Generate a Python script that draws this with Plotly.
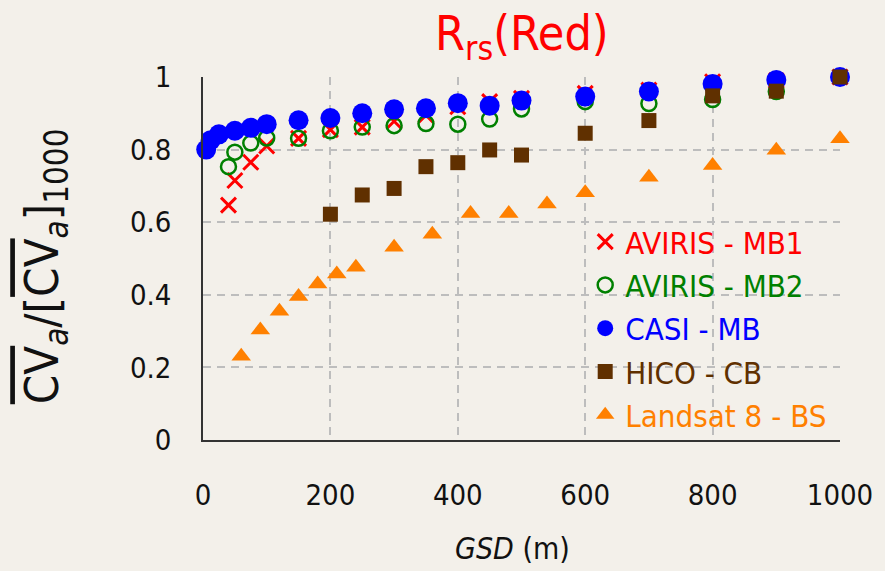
import plotly.graph_objects as go

# ---- data ----
aviris_gsd = [40, 50, 75, 100, 150, 200, 250, 300, 350, 400, 450, 500, 600, 700, 800, 900, 1000]
aviris_mb1 = [0.647, 0.715, 0.765, 0.81, 0.831, 0.855, 0.862, 0.878, 0.895, 0.918, 0.932, 0.941, 0.955, 0.964, 0.987, 0.99, 1.0]
aviris_mb2 = [0.753, 0.793, 0.818, 0.832, 0.831, 0.852, 0.862, 0.866, 0.872, 0.870, 0.884, 0.912, 0.932, 0.927, 0.938, 0.96, 1.0]

casi_gsd = [5, 12, 25, 50, 75, 100, 150, 200, 250, 300, 350, 400, 450, 500, 600, 700, 800, 900, 1000]
casi_mb = [0.80, 0.826, 0.842, 0.852, 0.86, 0.87, 0.881, 0.887, 0.90, 0.911, 0.914, 0.928, 0.921, 0.935, 0.946, 0.96, 0.981, 0.992, 1.0]

hico_gsd = [200, 250, 300, 350, 400, 450, 500, 600, 700, 800, 900, 1000]
hico_cb = [0.622, 0.675, 0.693, 0.753, 0.764, 0.799, 0.785, 0.845, 0.88, 0.948, 0.961, 1.0]

landsat_gsd = [60, 90, 120, 150, 180, 210, 240, 300, 360, 420, 480, 540, 600, 700, 800, 900, 1000]
landsat_bs = [0.231, 0.303, 0.355, 0.395, 0.43, 0.457, 0.476, 0.531, 0.567, 0.624, 0.624, 0.65, 0.681, 0.724, 0.756, 0.798, 0.830]

x_ticks = [0, 200, 400, 600, 800, 1000]
y_ticks = [0, 0.2, 0.4, 0.6, 0.8, 1]
y_tick_text = ["0", "0.2", "0.4", "0.6", "0.8", "1"]

FONT = "Liberation Sans Narrow, Arial Narrow, DejaVu Sans Condensed, Lato, sans-serif"
BG = "#f3f0ea"
RED, GREEN, BLUE, BROWN, ORANGE = "#ff0000", "#008000", "#0000ff", "#603000", "#ff8000"

fig = go.Figure()
fig.add_trace(go.Scatter(x=aviris_gsd, y=aviris_mb1, mode="markers",
                         name=f'<span style="color:{RED}">AVIRIS - MB1</span>',
                         marker=dict(symbol="x-thin", size=15, line=dict(color=RED, width=3)),
                         cliponaxis=False))
fig.add_trace(go.Scatter(x=aviris_gsd, y=aviris_mb2, mode="markers",
                         name=f'<span style="color:{GREEN}">AVIRIS - MB2</span>',
                         marker=dict(symbol="circle-open", size=15, color=GREEN, line=dict(color=GREEN, width=2.5)),
                         cliponaxis=False))
fig.add_trace(go.Scatter(x=casi_gsd, y=casi_mb, mode="markers",
                         name=f'<span style="color:{BLUE}">CASI - MB</span>',
                         marker=dict(symbol="circle", size=20, color=BLUE),
                         cliponaxis=False))
fig.add_trace(go.Scatter(x=hico_gsd, y=hico_cb, mode="markers",
                         name=f'<span style="color:{BROWN}">HICO - CB</span>',
                         marker=dict(symbol="square", size=15, color=BROWN),
                         cliponaxis=False))
fig.add_trace(go.Scatter(x=landsat_gsd, y=landsat_bs, mode="markers",
                         name=f'<span style="color:{ORANGE}">Landsat 8 - BS</span>',
                         marker=dict(symbol="triangle-up", size=17, color=ORANGE),
                         cliponaxis=False))

grid = dict(showgrid=True, gridcolor="#bdbdbd", gridwidth=2.2, griddash="8px,6px")

fig.update_layout(
    width=885, height=571,
    margin=dict(l=203, r=40, t=77, b=131),
    paper_bgcolor=BG, plot_bgcolor=BG,
    font=dict(family=FONT, size=29, color="#111111"),
    showlegend=True,
    legend=dict(x=0.60, y=0.62, xanchor="left", yanchor="top",
                bgcolor="rgba(0,0,0,0)", font=dict(size=31),
                itemsizing="trace", tracegroupgap=0),
    xaxis=dict(range=[0, 1000], tickvals=x_ticks, ticks="", ticklabelstandoff=28,
               showline=True, linecolor="#333333", linewidth=1.5, zeroline=False, **grid),
    yaxis=dict(range=[0, 1], tickvals=y_ticks, ticktext=y_tick_text, ticks="", ticklabelstandoff=24,
               showline=True, linecolor="#333333", linewidth=1.5, zeroline=False, **grid),
)

fig.add_annotation(xref="paper", yref="paper", x=0.5, y=(440 - 36) / 363,
                   text="R<sub>rs</sub>(Red)", showarrow=False,
                   font=dict(family=FONT, size=48, color=RED), xanchor="center", yanchor="middle")
fig.add_annotation(xref="paper", yref="paper", x=(515 - 203) / 642, y=(440 - 548) / 363,
                   text="<i>GSD</i> (m)", showarrow=False,
                   font=dict(family=FONT, size=30, color="#111111"), xanchor="center", yanchor="middle")
fig.add_annotation(xref="paper", yref="paper", x=(44 - 203) / 642, y=(440 - 266) / 363,
                   text='<span style="text-decoration:overline">CV</span><sub><i>a</i></sub>/[<span style="text-decoration:overline">CV</span><sub><i>a</i></sub>]<sub>1000</sub>',
                   showarrow=False, textangle=-90,
                   font=dict(family=FONT, size=47, color="#111111"), xanchor="center", yanchor="middle")

fig.write_html("out.html")
